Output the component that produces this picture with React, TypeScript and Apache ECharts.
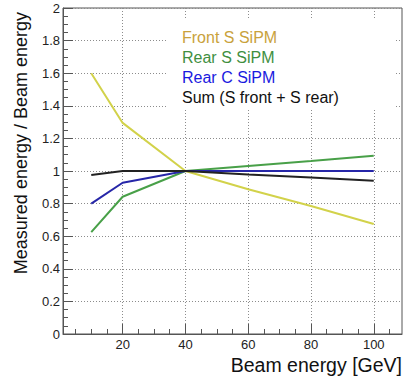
import React, { useEffect, useRef } from 'react';
import * as echarts from 'echarts';

const energies = [10, 20, 40, 60, 80, 100];
const frontS = [1.6, 1.295, 1.0, 0.888, 0.785, 0.675];
const rearS = [0.625, 0.842, 1.0, 1.03, 1.061, 1.093];
const rearC = [0.8, 0.928, 1.0, 1.0, 1.0, 1.0];
const sumS = [0.975, 1.0, 1.0, 0.978, 0.96, 0.94];
const seriesNames = ['Front S SiPM', 'Rear S SiPM', 'Rear C SiPM', 'Sum (S front + S rear)'];
const xMajorTicks = [20, 40, 60, 80, 100];
const xMinorTicks = [5, 10, 15, 20, 25, 30, 35, 40, 45, 50, 55, 60, 65, 70, 75, 80, 85, 90, 95, 100, 105];
const xTitle = 'Beam energy [GeV]';
const yTitle = 'Measured energy / Beam energy';

const FONT = '"Liberation Sans", Arial, Helvetica, sans-serif';
const AXIS_COLOR = '#555';
const lineColors = ['#d2d24a', '#48a048', '#2626a8', '#222222'];
const textColors = ['#c9a23c', '#3f8f3f', '#1a1ae0', '#111111'];

export default function App() {
  const ref = useRef<HTMLDivElement>(null);
  useEffect(() => {
    if (!ref.current) return;
    const chart = echarts.init(ref.current, undefined, { renderer: 'svg' });
    const pairs = (ys: number[]) => energies.map((x, i) => [x, ys[i]]);
    const allY = [frontS, rearS, rearC, sumS];
    const gridLine = { show: true, lineStyle: { color: '#8c8c8c', type: [1, 2], width: 1 } };
    chart.setOption({
      animation: false,
      backgroundColor: '#ffffff',
      grid: {
        left: 63, right: 1, top: 8, bottom: 44,
        show: true, borderColor: AXIS_COLOR, borderWidth: 1, backgroundColor: 'transparent',
      },
      xAxis: [
        {
          type: 'value', min: 1, max: 109, position: 'bottom',
          axisLine: { show: true, lineStyle: { color: AXIS_COLOR } },
          axisTick: { show: true, inside: true, length: 5, customValues: xMinorTicks, lineStyle: { color: AXIS_COLOR } },
          axisLabel: { show: false },
          splitLine: { show: false },
        },
        {
          type: 'value', min: 1, max: 109, position: 'bottom',
          axisLine: { show: false },
          axisTick: { show: true, inside: true, length: 10, customValues: xMajorTicks, lineStyle: { color: AXIS_COLOR } },
          axisLabel: { show: true, customValues: xMajorTicks, fontSize: 13, color: '#222', fontFamily: FONT, margin: 4 },
          splitLine: gridLine,
        },
      ],
      yAxis: {
        type: 'value', min: 0, max: 2, interval: 0.2,
        axisLine: { show: true, lineStyle: { color: AXIS_COLOR } },
        axisTick: { show: true, inside: true, length: 10, lineStyle: { color: AXIS_COLOR } },
        minorTick: { show: true, splitNumber: 4, length: 5, lineStyle: { color: AXIS_COLOR } },
        axisLabel: { fontSize: 13, color: '#222', fontFamily: FONT, margin: 3 },
        splitLine: gridLine,
      },
      series: allY.map((ys, i) => ({
        name: seriesNames[i],
        type: 'line',
        xAxisIndex: 0,
        data: pairs(ys),
        symbol: 'none',
        lineStyle: { color: lineColors[i], width: 2 },
        z: 3,
      })),
      graphic: [
        { type: 'rect', z: 1, shape: { x: 168, y: 20, width: 227, height: 90 }, style: { fill: '#ffffff' } },
        ...seriesNames.map((n, i) => ({
          type: 'text', z: 5, x: 182, y: 37 + i * 20,
          style: { text: n, fill: textColors[i], font: `16px ${FONT}`, verticalAlign: 'middle', align: 'left' },
        })),
        {
          type: 'text', z: 5, x: 402, y: 365,
          style: { text: xTitle, fill: '#111', font: `19.5px ${FONT}`, align: 'right', verticalAlign: 'middle' },
        },
        {
          type: 'text', z: 5, x: 21, y: 12, rotation: Math.PI / 2,
          style: { text: yTitle, fill: '#111', font: `18px ${FONT}`, align: 'right', verticalAlign: 'middle' },
        },
      ],
    });
    return () => chart.dispose();
  }, []);
  return <div ref={ref} style={{ position: 'fixed', left: 0, top: 0, width: 403, height: 378 }} />;
}
